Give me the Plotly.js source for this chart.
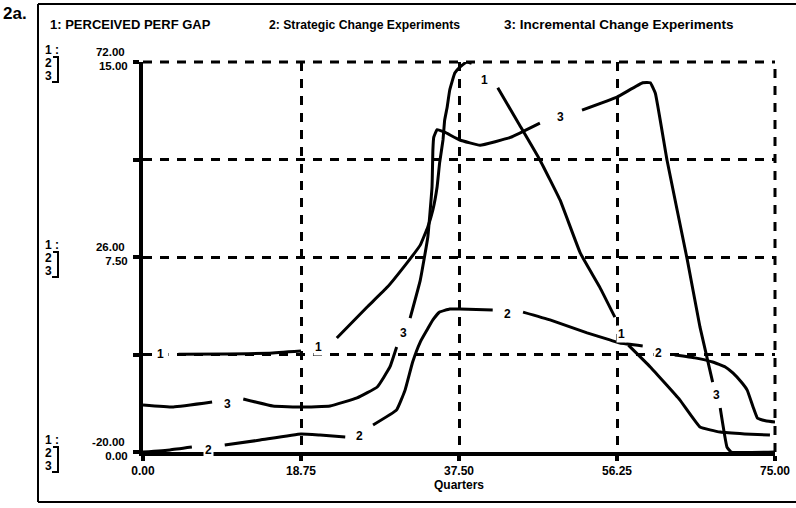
<!DOCTYPE html>
<html><head><meta charset="utf-8">
<script src="https://cdn.plot.ly/plotly-3.0.1.min.js"></script>
<style>html,body{margin:0;padding:0;background:#fff;}#chart{width:796px;height:508px;}</style>
</head><body><div id="chart"></div>
<script>
// ---------------- DATA ----------------
const panelLabel = '2a.';
const legendTexts = ['1: PERCEIVED PERF GAP', '2: Strategic Change Experiments', '3: Incremental Change Experiments'];
const xTitle = 'Quarters';
const xTicks = [0, 18.75, 37.5, 56.25, 75];
const xTickText = ['0.00', '18.75', '37.50', '56.25', '75.00'];
const y1Grid = [-20, 3, 26, 49, 72];
const y1TickText = ['-20.00', '', '26.00', '', '72.00'];
const y2Ticks = [0, 7.5, 15];
const y2TickText = ['0.00', '7.50', '15.00'];

// 1: PERCEIVED PERF GAP (scale -20 .. 72)
const t1 = [0, 10, 15, 18.75, 23.0, 26.6, 29.0, 31.4, 32.9, 33.8, 34.4, 34.9, 35.2, 35.6, 35.8, 36.1, 36.4, 37.0, 37.6, 38.4, 39.0, 41.2, 42.1, 44.7, 47.1, 49.5, 51.9, 54.2, 56.0, 56.6, 57.6, 60.2, 63.7, 66.1, 68.5, 71.4, 74.4];
const v1 = [3.0, 3.1, 3.3, 3.8, 6.9, 14.2, 18.9, 24.8, 28.8, 33.1, 37.1, 42.5, 48.2, 53.6, 58.3, 61.4, 65.4, 69.4, 70.8, 72.0, 71.7, 67.8, 65.9, 57.1, 48.9, 39.4, 26.9, 18.9, 11.8, 6.4, 5.2, 0.05, -7.7, -14.1, -15.3, -15.75, -16.0];

// 2: Strategic Change Experiments (scale 0 .. 15)
const t2 = [0, 3.2, 5.8, 9.7, 13.9, 18.75, 21.0, 24.0, 27.3, 30.1, 31.1, 32.0, 32.9, 33.7, 34.4, 35.2, 36.4, 37.6, 41.5, 45.1, 48.3, 52.7, 55.4, 56.6, 59.3, 63.1, 65.5, 67.6, 69.1, 70.0, 71.0, 71.7, 72.4, 72.9, 73.5, 74.0, 75];
const v2 = [0, 0.08, 0.19, 0.27, 0.46, 0.69, 0.65, 0.58, 1.04, 1.62, 2.38, 3.46, 4.23, 4.69, 5.08, 5.38, 5.5, 5.5, 5.46, 5.38, 5.08, 4.58, 4.31, 4.19, 4.08, 3.73, 3.62, 3.46, 3.27, 3.04, 2.69, 2.38, 1.73, 1.31, 1.23, 1.19, 1.15];

// 3: Incremental Change Experiments (scale 0 .. 15)
const t3 = [0, 3.6, 8.2, 11.9, 15.4, 18.9, 22.2, 25.4, 27.8, 29.3, 30.1, 31.7, 32.9, 33.8, 34.3, 34.4, 34.5, 34.9, 35.8, 37.6, 40.0, 43.6, 47.1, 52.1, 56.25, 59.3, 60.2, 60.8, 62.2, 64.6, 66.1, 67.6, 68.5, 69.3, 69.8, 75];
const v3 = [1.81, 1.73, 1.92, 2.04, 1.77, 1.73, 1.77, 2.08, 2.5, 3.27, 4.04, 5.15, 6.6, 8.27, 10.2, 11.6, 12.1, 12.4, 12.3, 12.0, 11.8, 12.1, 12.65, 13.15, 13.65, 14.2, 14.2, 13.8, 11.2, 7.38, 4.8, 2.69, 1.69, 0.19, 0, 0];

// ---------------- LABEL PLACEMENT (style) ----------------
const labelCfg = [
  {series: 0, gaps: [[0, 4.2], [18.75, 23.0], [39.0, 42.1], [56.0, 57.6]], yshift: [0, -2, -5, 7], pad: [4, 1, 1, 1]},
  {series: 1, gaps: [[5.8, 9.7], [24.0, 27.3], [41.5, 45.1], [59.3, 63.1]], yshift: [-4, -5, -3, -3], pad: [1, 1, 1, 1]},
  {series: 2, gaps: [[8.2, 11.9], [30.1, 31.7], [47.1, 52.1], [67.6, 68.5]], yshift: [-3, 0, 0, 0], pad: [1, 1, 1, 1]}
];

const T = [t1, t2, t3], V = [v1, v2, v3];
const yax = ['y', 'y2', 'y2'];

function interp(t, v, s) {
  if (s <= t[0]) return v[0];
  for (let i = 1; i < t.length; i++) {
    if (s <= t[i]) { const f = (s - t[i-1]) / (t[i] - t[i-1]); return v[i-1] + f * (v[i] - v[i-1]); }
  }
  return v[v.length - 1];
}
function gapped(t, v, gaps) {
  const all = Array.from(new Set(t.concat(gaps.flat()))).sort((a, b) => a - b);
  const X = [], Y = [];
  for (const s of all) {
    if (gaps.some(([a, b]) => s > a && s < b)) continue;
    X.push(s); Y.push(interp(t, v, s));
    const g = gaps.find(([a, b]) => s === a);
    if (g) { X.push((g[0] + g[1]) / 2); Y.push(null); }
  }
  return {X, Y};
}

const FONT = 'Liberation Sans, Arial, Helvetica, sans-serif';
const traces = [];
const annotations = [];
labelCfg.forEach(cfg => {
  const i = cfg.series;
  const g = gapped(T[i], V[i], cfg.gaps);
  traces.push({
    x: g.X, y: g.Y, yaxis: yax[i], type: 'scatter', mode: 'lines',
    line: {color: '#000', width: 3, shape: 'spline', smoothing: 0.3},
    connectgaps: false, hoverinfo: 'skip', showlegend: false
  });
  cfg.gaps.forEach(([a, b], k) => {
    const c = (a + b) / 2;
    annotations.push({
      x: c, y: interp(T[i], V[i], c), xref: 'x', yref: yax[i], text: String(i + 1),
      showarrow: false, yshift: cfg.yshift[k], bgcolor: '#fff', borderpad: cfg.pad[k],
      font: {family: FONT, size: 12, color: '#000', weight: 'bold'}
    });
  });
});

// pixel helpers for decoration (plot area: x 143..775, y 62..452)
const PX = p => (p - 143) / 632;
const PY = p => (452 - p) / 390;

// legend line at top
const legendX = [48, 267, 502];
const legendSize = [13, 12.2, 13.5];
legendTexts.forEach((txt, k) => {
  annotations.push({xref: 'paper', yref: 'paper', x: PX(legendX[k]), y: PY(25), xanchor: 'left', yanchor: 'middle',
    text: txt, showarrow: false, font: {family: FONT, size: legendSize[k], color: '#000', weight: 'bold'}});
});
annotations.push({xref: 'paper', yref: 'paper', x: PX(1), y: PY(13), xanchor: 'left', yanchor: 'middle',
  text: panelLabel, showarrow: false, font: {family: FONT, size: 17, color: '#000', weight: 'bold'}});

// left stacked series keys
const shapes = [];
const keyRows = [62, 257, 452];
keyRows.forEach(r => {
  const rows = ['1 :', '2', '3'];
  const off = [-12, 1, 14];
  rows.forEach((s, k) => {
    annotations.push({xref: 'paper', yref: 'paper', x: PX(43), y: PY(r + off[k]), xanchor: 'left', yanchor: 'middle',
      text: s, showarrow: false, font: {family: FONT, size: 12, color: '#000', weight: 'bold'}});
  });
  shapes.push({type: 'path', xref: 'paper', yref: 'paper',
    path: `M ${PX(53)} ${PY(r - 5)} L ${PX(58)} ${PY(r - 5)} L ${PX(58)} ${PY(r + 20)} L ${PX(52)} ${PY(r + 20)}`,
    line: {color: '#000', width: 2}});
});

// top and right dashed grid edges (at range limits)
shapes.push({type: 'line', xref: 'paper', yref: 'paper', x0: 0, x1: 1, y0: 1, y1: 1, layer: 'below', line: {color: '#000', width: 3, dash: '9px,8px'}});
shapes.push({type: 'line', xref: 'paper', yref: 'paper', x0: 1, x1: 1, y0: 0, y1: 1, layer: 'below', line: {color: '#000', width: 3, dash: '9px,8px'}});

// outer frame
shapes.push({type: 'line', xref: 'paper', yref: 'paper', x0: PX(38), x1: PX(38), y0: PY(4), y1: PY(502), line: {color: '#000', width: 2}});
shapes.push({type: 'line', xref: 'paper', yref: 'paper', x0: PX(38), x1: PX(796), y0: PY(4), y1: PY(4), line: {color: '#000', width: 2}});
shapes.push({type: 'line', xref: 'paper', yref: 'paper', x0: PX(38), x1: PX(796), y0: PY(502), y1: PY(502), line: {color: '#000', width: 2}});

const tickFont = {family: FONT, size: 12, color: '#000', weight: 'bold'};
const yTickFont = {family: FONT, size: 11.5, color: '#000', weight: 'bold'};
const layout = {
  width: 796, height: 508,
  margin: {l: 143, r: 21, t: 62, b: 56, pad: 0},
  paper_bgcolor: '#fff', plot_bgcolor: '#fff',
  showlegend: false,
  xaxis: {
    range: [0, 75], tickvals: xTicks, ticktext: xTickText, tickfont: tickFont,
    showgrid: true, gridcolor: '#000', gridwidth: 3, griddash: '9px,8px',
    showline: true, linecolor: '#000', linewidth: 4, zeroline: false,
    ticks: 'outside', ticklen: 5, tickwidth: 4, tickcolor: '#000',
    title: {text: xTitle, font: tickFont, standoff: 2}
  },
  yaxis: {
    range: [-20, 72], tickvals: y1Grid, ticktext: y1TickText, tickfont: yTickFont,
    showgrid: true, gridcolor: '#000', gridwidth: 3, griddash: '9px,8px',
    showline: true, linecolor: '#000', linewidth: 4, zeroline: false,
    ticks: 'outside', ticklen: 6, tickwidth: 4, tickcolor: '#000',
    ticklabelshift: -10, ticklabelstandoff: 6
  },
  yaxis2: {
    range: [0, 15], overlaying: 'y', side: 'left', tickvals: y2Ticks, ticktext: y2TickText, tickfont: yTickFont,
    showgrid: false, showline: false, zeroline: false,
    ticks: 'outside', ticklen: 6, tickwidth: 4, tickcolor: 'rgba(0,0,0,0)',
    ticklabelshift: 4, ticklabelstandoff: 6
  },
  annotations: annotations,
  shapes: shapes
};
Plotly.newPlot('chart', traces, layout, {staticPlot: true, displayModeBar: false});
</script>
</body></html>
